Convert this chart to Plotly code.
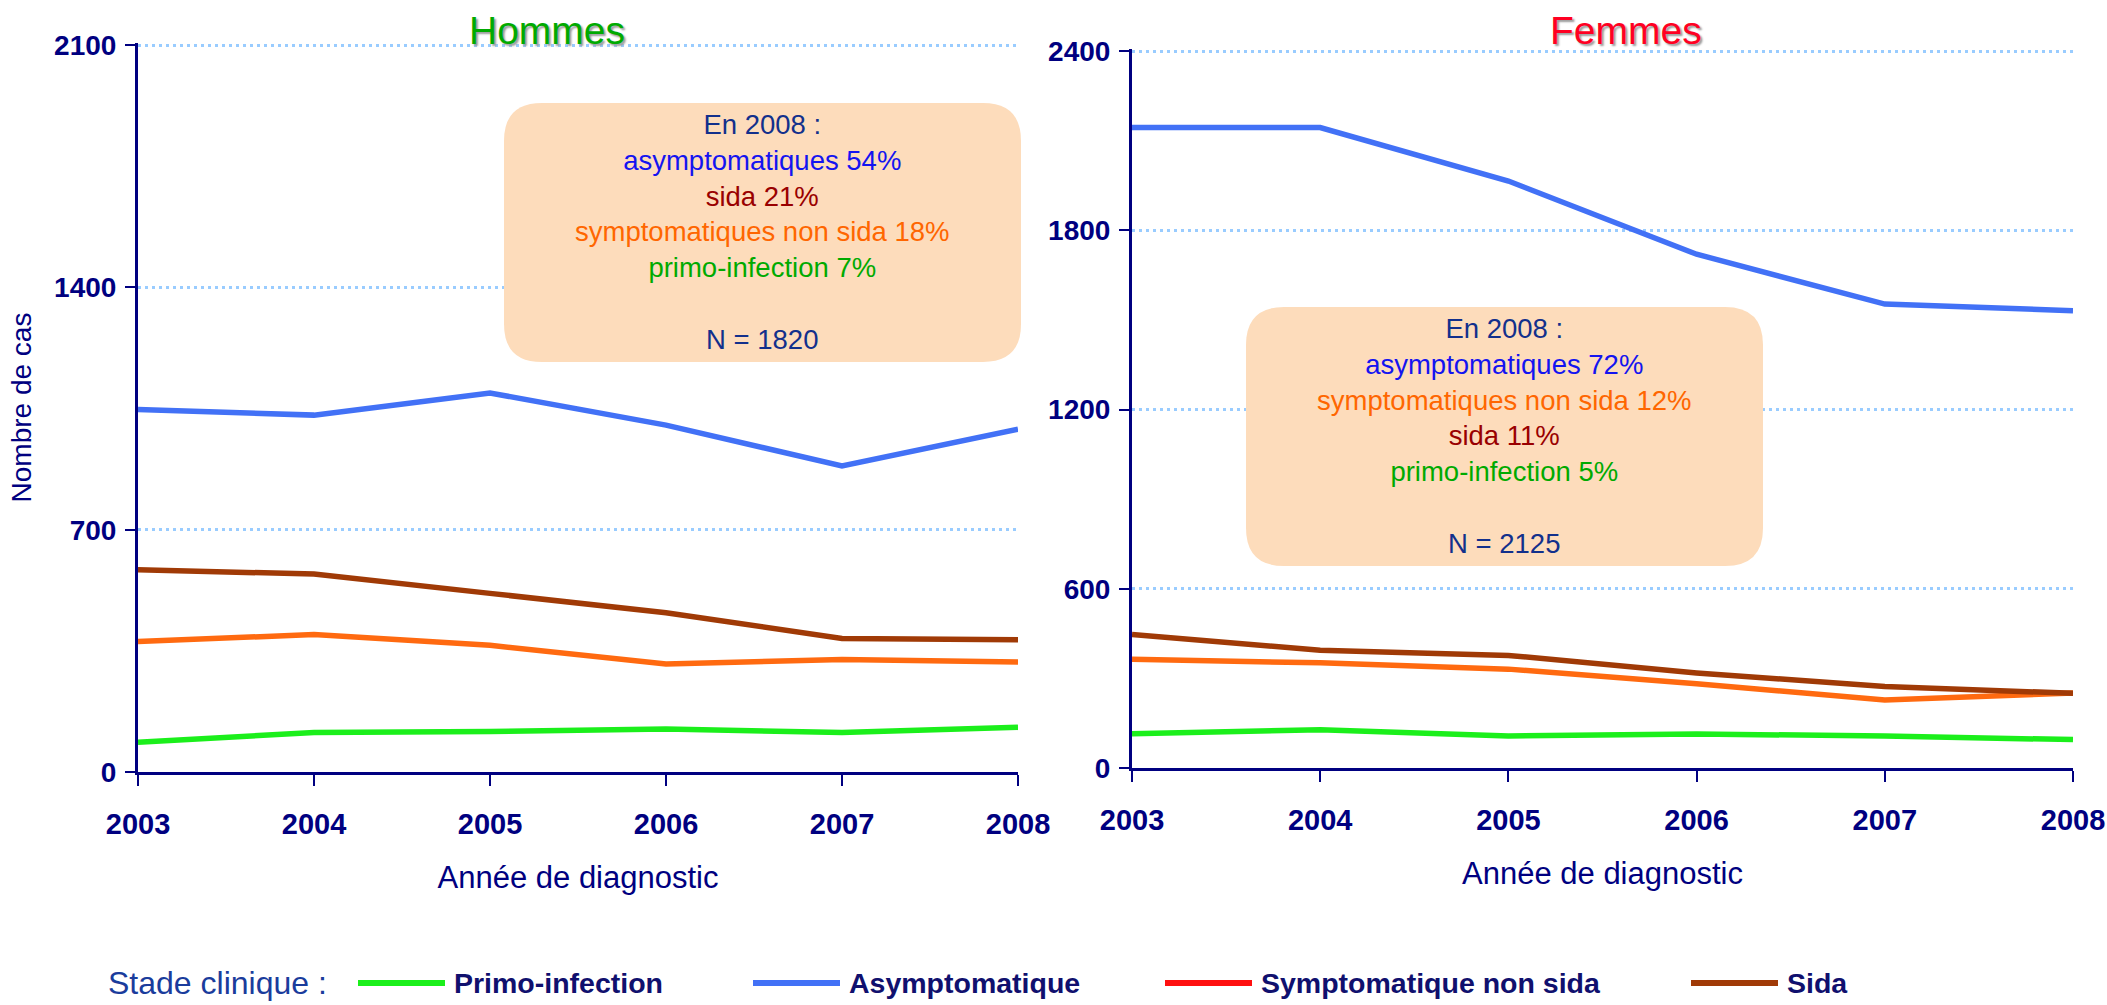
import plotly.graph_objects as go

W, H = 2107, 1005

annees = [2003, 2004, 2005, 2006, 2007, 2008]

stades = ["Primo-infection", "Asymptomatique", "Symptomatique non sida", "Sida"]
couleurs = ["#1bef1b", "#4271f6", "#ff6a10", "#a03a06"]
couleurs_legende = ["#1bef1b", "#4271f6", "#ff1010", "#a03a06"]

hommes_primo = [86, 114, 117, 124, 114, 129]
hommes_asympt = [1047, 1031, 1095, 1002, 884, 990]
hommes_sympt = [377, 397, 366, 312, 325, 318]
hommes_sida = [584, 572, 516, 460, 386, 382]

femmes_primo = [115, 128, 107, 114, 107, 95]
femmes_asympt = [2144, 2144, 1965, 1720, 1553, 1531]
femmes_sympt = [364, 352, 331, 282, 228, 251]
femmes_sida = [447, 394, 377, 318, 273, 250]

ticks_hommes = [0, 700, 1400, 2100]
ticks_femmes = [0, 600, 1200, 1800, 2400]

texte_hommes = ["En 2008 :", "asymptomatiques 54%", "sida 21%",
                "symptomatiques non sida 18%", "primo-infection 7%", "N = 1820"]
couleurs_hommes = ["#12308c", "#1414f0", "#990000", "#ff6600", "#00aa00", "#12308c"]
texte_femmes = ["En 2008 :", "asymptomatiques 72%", "symptomatiques non sida 12%",
                "sida 11%", "primo-infection 5%", "N = 2125"]
couleurs_femmes = ["#12308c", "#1414f0", "#ff6600", "#990000", "#00aa00", "#12308c"]

SANS = "Liberation Sans, Arial, sans-serif"
NAVY = "#000080"


def px(x):
    return x / W


def py(y):
    return 1 - y / H


fig = go.Figure()

series_h = [hommes_primo, hommes_asympt, hommes_sympt, hommes_sida]
series_f = [femmes_primo, femmes_asympt, femmes_sympt, femmes_sida]
for i, nom in enumerate(stades):
    fig.add_trace(go.Scatter(x=annees, y=series_h[i], mode="lines", name=nom,
                             line=dict(color=couleurs[i], width=5.5),
                             xaxis="x", yaxis="y", showlegend=False))
    fig.add_trace(go.Scatter(x=annees, y=series_f[i], mode="lines", name=nom,
                             line=dict(color=couleurs[i], width=5.5),
                             xaxis="x2", yaxis="y2", showlegend=False))

axe_x = dict(range=[2003, 2008], tickvals=annees, showgrid=False, zeroline=False,
             showline=True, linecolor=NAVY, linewidth=3, automargin=False,
             ticks="outside", ticklen=11, tickwidth=2, tickcolor=NAVY,
             ticklabelstandoff=13,
             tickfont=dict(family=SANS, size=29, color=NAVY, weight="bold"),
             title=dict(text="Année de diagnostic", standoff=28,
                        font=dict(family=SANS, size=31, color=NAVY)))
axe_y = dict(showgrid=True, gridcolor="#99ccff", gridwidth=2.5, griddash="3px,4px",
             zeroline=False, showline=True, linecolor=NAVY, linewidth=3, automargin=False,
             ticks="outside", ticklen=10, tickwidth=2, tickcolor=NAVY,
             ticklabelstandoff=3,
             tickfont=dict(family=SANS, size=28, color=NAVY, weight="bold"))

# haut de l'axe un peu au-dessus de la dernière graduation pour garder sa grille pointillée
fig.update_layout(
    width=W, height=H,
    margin=dict(l=0, r=0, t=0, b=0),
    paper_bgcolor="white", plot_bgcolor="white",
    showlegend=False,
    xaxis=dict(axe_x, domain=[px(138), px(1018)], anchor="y"),
    yaxis=dict(axe_y, domain=[py(772), py(43)], range=[0, 2106], tickvals=ticks_hommes,
               anchor="x",
               title=dict(text="Nombre de cas", standoff=15,
                          font=dict(family=SANS, size=28, color=NAVY))),
    xaxis2=dict(axe_x, domain=[px(1132), px(2073)], anchor="y2"),
    yaxis2=dict(axe_y, domain=[py(768), py(49)], range=[0, 2407], tickvals=ticks_femmes,
                anchor="x2"),
)


def boite(x0, y0, x1, y1, r=38):
    path = (f"M {px(x0 + r)},{py(y0)} L {px(x1 - r)},{py(y0)} "
            f"Q {px(x1)},{py(y0)} {px(x1)},{py(y0 + r)} L {px(x1)},{py(y1 - r)} "
            f"Q {px(x1)},{py(y1)} {px(x1 - r)},{py(y1)} L {px(x0 + r)},{py(y1)} "
            f"Q {px(x0)},{py(y1)} {px(x0)},{py(y1 - r)} L {px(x0)},{py(y0 + r)} "
            f"Q {px(x0)},{py(y0)} {px(x0 + r)},{py(y0)} Z")
    fig.add_shape(type="path", path=path, xref="paper", yref="paper",
                  fillcolor="#fddcbb", line=dict(width=0), layer="above")


def texte_boite(lignes, cols, xc, yc):
    parts = [f"<span style='color:{c}'>{t}</span>" for t, c in zip(lignes, cols)]
    txt = "<br>".join(parts[:5] + [""] + parts[5:])
    fig.add_annotation(x=px(xc), y=py(yc), xref="paper", yref="paper", text=txt,
                       showarrow=False, xanchor="center", yanchor="middle", align="center",
                       font=dict(family=SANS, size=27.5, color=NAVY))


boite(504, 103, 1021, 362)
boite(1246, 307, 1763, 566)
texte_boite(texte_hommes, couleurs_hommes, 762, 232)
texte_boite(texte_femmes, couleurs_femmes, 1504, 436)

# titres des panneaux
fig.add_annotation(x=px(547), y=py(31), xref="paper", yref="paper", text="Hommes",
                   showarrow=False, xanchor="center", yanchor="middle",
                   font=dict(family=SANS, size=39, color="#00aa00",
                             shadow="2px 2px 2px #9a9a9a"))
fig.add_annotation(x=px(1626), y=py(31), xref="paper", yref="paper", text="Femmes",
                   showarrow=False, xanchor="center", yanchor="middle",
                   font=dict(family=SANS, size=39, color="#ff0022",
                             shadow="2px 2px 2px #9a9a9a"))

# légende en bas
fig.add_annotation(x=px(106), y=py(983), xref="paper", yref="paper", text="Stade clinique :",
                   showarrow=False, xanchor="left", yanchor="middle",
                   font=dict(family=SANS, size=32, color="#1a3c9c"))
leg_x = [358, 753, 1165, 1691]
for nom, c, x0 in zip(stades, couleurs_legende, leg_x):
    fig.add_shape(type="line", xref="paper", yref="paper",
                  x0=px(x0), x1=px(x0 + 87), y0=py(983), y1=py(983),
                  line=dict(color=c, width=6))
    fig.add_annotation(x=px(x0 + 94), y=py(983), xref="paper", yref="paper", text=nom,
                       showarrow=False, xanchor="left", yanchor="middle",
                       font=dict(family=SANS, size=28.5, color="#10106e", weight="bold"))

fig.write_html("out.html", config={"displayModeBar": False},
               post_script="document.body.style.margin='0';")
